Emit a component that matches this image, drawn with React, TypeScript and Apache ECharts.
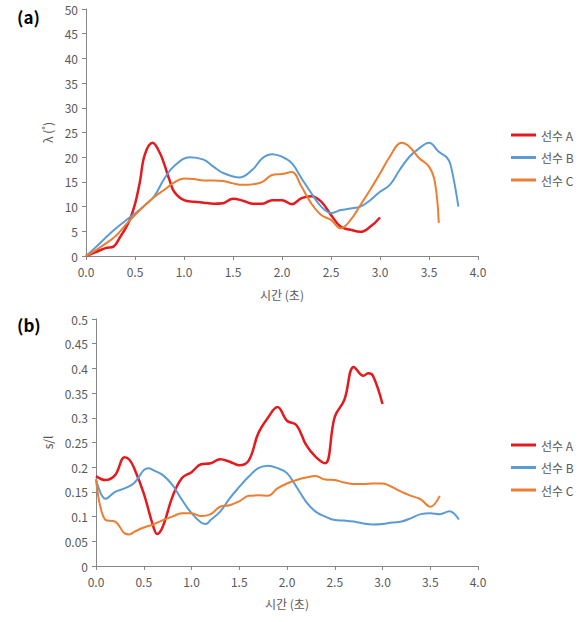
import React, { useEffect, useRef } from "react";
import * as echarts from "echarts";

const playerNames = ["선수 A", "선수 B", "선수 C"];
const colors = ["#e31b1f", "#5b9bd5", "#ed7d31"];
const xTickMax = 4;

// (a) λ(˚)
const timeA_a = [0, 0.1, 0.2, 0.28, 0.35, 0.4, 0.45, 0.5, 0.55, 0.6, 0.68, 0.75, 0.8, 0.85, 0.9, 1.0, 1.1, 1.2, 1.3, 1.4, 1.5, 1.6, 1.7, 1.8, 1.9, 2.0, 2.1, 2.2, 2.3, 2.4, 2.5, 2.6, 2.7, 2.8, 2.9, 3.0];
const lambdaA = [0, 0.8, 1.6, 1.9, 3.9, 5.5, 7.5, 10.5, 15, 20.5, 22.9, 21, 18.5, 15.5, 13, 11.3, 11, 10.8, 10.6, 10.7, 11.6, 11.2, 10.6, 10.6, 11.3, 11.3, 10.5, 11.7, 12.1, 11, 8.3, 5.9, 5.3, 4.9, 5.9, 7.8];
const timeB_a = [0, 0.1, 0.2, 0.3, 0.4, 0.5, 0.6, 0.7, 0.8, 0.9, 1.06, 1.2, 1.3, 1.4, 1.57, 1.7, 1.8, 1.9, 2.0, 2.1, 2.2, 2.3, 2.4, 2.5, 2.6, 2.7, 2.8, 2.9, 3.0, 3.1, 3.2, 3.3, 3.4, 3.5, 3.6, 3.68, 3.72, 3.8];
const lambdaB = [0, 1.8, 3.7, 5.5, 7.1, 8.6, 10.3, 12.2, 15.7, 18.2, 20, 19.5, 18.1, 16.8, 15.9, 17.5, 19.8, 20.6, 20.1, 18.8, 15.7, 12.7, 10, 8.7, 9.3, 9.6, 10, 11.3, 13, 14.4, 17.4, 20.1, 21.8, 22.9, 21.1, 20, 18.5, 10];
const timeC_a = [0, 0.1, 0.2, 0.3, 0.4, 0.5, 0.6, 0.7, 0.8, 0.9, 1.0, 1.1, 1.2, 1.3, 1.4, 1.5, 1.6, 1.7, 1.8, 1.9, 2.0, 2.1, 2.2, 2.3, 2.4, 2.5, 2.6, 2.7, 2.8, 2.9, 3.0, 3.1, 3.22, 3.3, 3.4, 3.5, 3.56, 3.6];
const lambdaC = [0, 1.2, 2.5, 4, 6.2, 8.3, 10.2, 12, 13.4, 14.9, 15.7, 15.6, 15.3, 15.3, 15.2, 14.7, 14.4, 14.5, 15, 16.4, 16.6, 17, 14, 10.6, 8.3, 7.3, 5.6, 7.3, 10.3, 13.4, 16.7, 20.1, 22.9, 22.1, 19.8, 18.1, 15, 6.7];

// (b) s/l
const timeA_b = [0, 0.1, 0.2, 0.3, 0.35, 0.4, 0.5, 0.6, 0.64, 0.7, 0.8, 0.9, 1.0, 1.1, 1.2, 1.3, 1.4, 1.5, 1.6, 1.7, 1.8, 1.9, 2.0, 2.1, 2.2, 2.3, 2.4, 2.5, 2.6, 2.7, 2.8, 2.85, 2.9, 3.0];
const slA = [0.182, 0.174, 0.184, 0.22, 0.215, 0.198, 0.147, 0.08, 0.065, 0.08, 0.14, 0.178, 0.19, 0.206, 0.208, 0.216, 0.211, 0.204, 0.214, 0.269, 0.3, 0.322, 0.294, 0.285, 0.245, 0.221, 0.208, 0.302, 0.336, 0.403, 0.385, 0.39, 0.385, 0.328];
const timeB_b = [0, 0.1, 0.2, 0.3, 0.4, 0.5, 0.55, 0.6, 0.7, 0.8, 0.9, 1.0, 1.1, 1.15, 1.2, 1.3, 1.4, 1.5, 1.6, 1.7, 1.8, 1.9, 2.0, 2.1, 2.2, 2.3, 2.4, 2.5, 2.6, 2.7, 2.8, 2.9, 3.0, 3.1, 3.2, 3.3, 3.4, 3.5, 3.6, 3.7, 3.8];
const slB = [0.176, 0.136, 0.15, 0.157, 0.168, 0.194, 0.198, 0.194, 0.184, 0.164, 0.134, 0.107, 0.088, 0.085, 0.093, 0.11, 0.137, 0.16, 0.181, 0.198, 0.203, 0.198, 0.188, 0.16, 0.13, 0.11, 0.1, 0.093, 0.092, 0.09, 0.086, 0.084, 0.085, 0.088, 0.09, 0.097, 0.105, 0.107, 0.105, 0.111, 0.094];
const timeC_b = [0, 0.1, 0.2, 0.3, 0.35, 0.4, 0.5, 0.6, 0.7, 0.8, 0.9, 1.0, 1.1, 1.2, 1.3, 1.4, 1.5, 1.6, 1.7, 1.8, 1.9, 2.0, 2.1, 2.2, 2.3, 2.4, 2.5, 2.6, 2.7, 2.8, 2.9, 3.0, 3.1, 3.2, 3.3, 3.4, 3.5, 3.6];
const slC = [0.175, 0.093, 0.09, 0.066, 0.064, 0.069, 0.078, 0.084, 0.093, 0.1, 0.107, 0.107, 0.101, 0.105, 0.12, 0.123, 0.131, 0.142, 0.143, 0.142, 0.157, 0.167, 0.174, 0.179, 0.182, 0.175, 0.174, 0.169, 0.166, 0.166, 0.167, 0.167, 0.16, 0.15, 0.142, 0.135, 0.12, 0.142];

const FONT = "'Noto Sans CJK KR', 'Noto Sans', sans-serif";
const AXIS_COLOR = "#868686";
const LABEL_COLOR = "#595959";

function zip(t: number[], v: number[]) {
  return t.map((x, i) => [x, v[i]]);
}

export default function App() {
  const ref = useRef<HTMLDivElement>(null);
  useEffect(() => {
    document.body.style.margin = "0";
    if (!ref.current) return;
    const chart = echarts.init(ref.current, null, { renderer: "svg" });

    const xAxisCommon = (gridIndex: number, nameGap: number) => ({
      type: "value" as const,
      gridIndex,
      min: 0,
      max: xTickMax,
      interval: 0.5,
      name: "시간 (초)",
      nameLocation: "middle" as const,
      nameGap,
      nameTextStyle: { color: LABEL_COLOR, fontSize: 12, fontFamily: FONT },
      axisLine: { show: true, lineStyle: { color: AXIS_COLOR, width: 1 } },
      axisTick: { show: true, inside: false, length: 4, lineStyle: { color: AXIS_COLOR } },
      splitLine: { show: false },
      axisLabel: {
        color: LABEL_COLOR,
        fontSize: 12,
        fontFamily: FONT,
        margin: 9,
        formatter: (v: number) => v.toFixed(1),
      },
    });

    const yAxisCommon = (gridIndex: number, max: number, interval: number, name: string, nameGap: number) => ({
      type: "value" as const,
      gridIndex,
      min: 0,
      max,
      interval,
      name,
      nameLocation: "middle" as const,
      nameGap,
      nameRotate: 90,
      nameTextStyle: { color: LABEL_COLOR, fontSize: 12, fontFamily: FONT },
      axisLine: { show: true, lineStyle: { color: AXIS_COLOR, width: 1 } },
      axisTick: { show: true, inside: false, length: 4, lineStyle: { color: AXIS_COLOR } },
      splitLine: { show: false },
      axisLabel: { color: LABEL_COLOR, fontSize: 12, fontFamily: FONT, margin: 8 },
    });

    const mkSeries = (name: string, idx: number, axisIndex: number, data: number[][], width: number) => ({
      type: "line" as const,
      name,
      xAxisIndex: axisIndex,
      yAxisIndex: axisIndex,
      data,
      smooth: 0.4,
      symbol: "none",
      lineStyle: { color: colors[idx], width },
      itemStyle: { color: colors[idx] },
    });

    const legendCommon = (top: number) => ({
      orient: "vertical" as const,
      left: 506,
      top,
      icon: "rect",
      itemWidth: 25,
      itemHeight: 3,
      itemGap: 10.5,
      data: playerNames,
      textStyle: { color: LABEL_COLOR, fontSize: 12, fontFamily: FONT },
      selectedMode: false,
    });

    chart.setOption({
      animation: false,
      backgroundColor: "#ffffff",
      textStyle: { fontFamily: FONT },
      grid: [
        { left: 86, top: 9, width: 392, height: 247 },
        { left: 96, top: 319, width: 382, height: 247 },
      ],
      xAxis: [xAxisCommon(0, 32), xAxisCommon(1, 31)],
      yAxis: [
        yAxisCommon(0, 50, 5, "λ (˚)", 30),
        yAxisCommon(1, 0.5, 0.05, "s/l", 40),
      ],
      legend: [legendCommon(124), legendCommon(434)],
      series: [
        mkSeries(playerNames[0], 0, 0, zip(timeA_a, lambdaA), 2.5),
        mkSeries(playerNames[1], 1, 0, zip(timeB_a, lambdaB), 2),
        mkSeries(playerNames[2], 2, 0, zip(timeC_a, lambdaC), 2),
        mkSeries(playerNames[0], 0, 1, zip(timeA_b, slA), 2.5),
        mkSeries(playerNames[1], 1, 1, zip(timeB_b, slB), 2),
        mkSeries(playerNames[2], 2, 1, zip(timeC_b, slC), 2),
      ],
      graphic: [
        {
          type: "text",
          left: 17,
          top: 8,
          style: { text: "(a)", fontSize: 17, fontWeight: "bold", fill: "#000", fontFamily: FONT },
        },
        {
          type: "text",
          left: 17,
          top: 316,
          style: { text: "(b)", fontSize: 17, fontWeight: "bold", fill: "#000", fontFamily: FONT },
        },
      ],
    });
    return () => chart.dispose();
  }, []);
  return <div ref={ref} style={{ width: 581, height: 622 }} />;
}
